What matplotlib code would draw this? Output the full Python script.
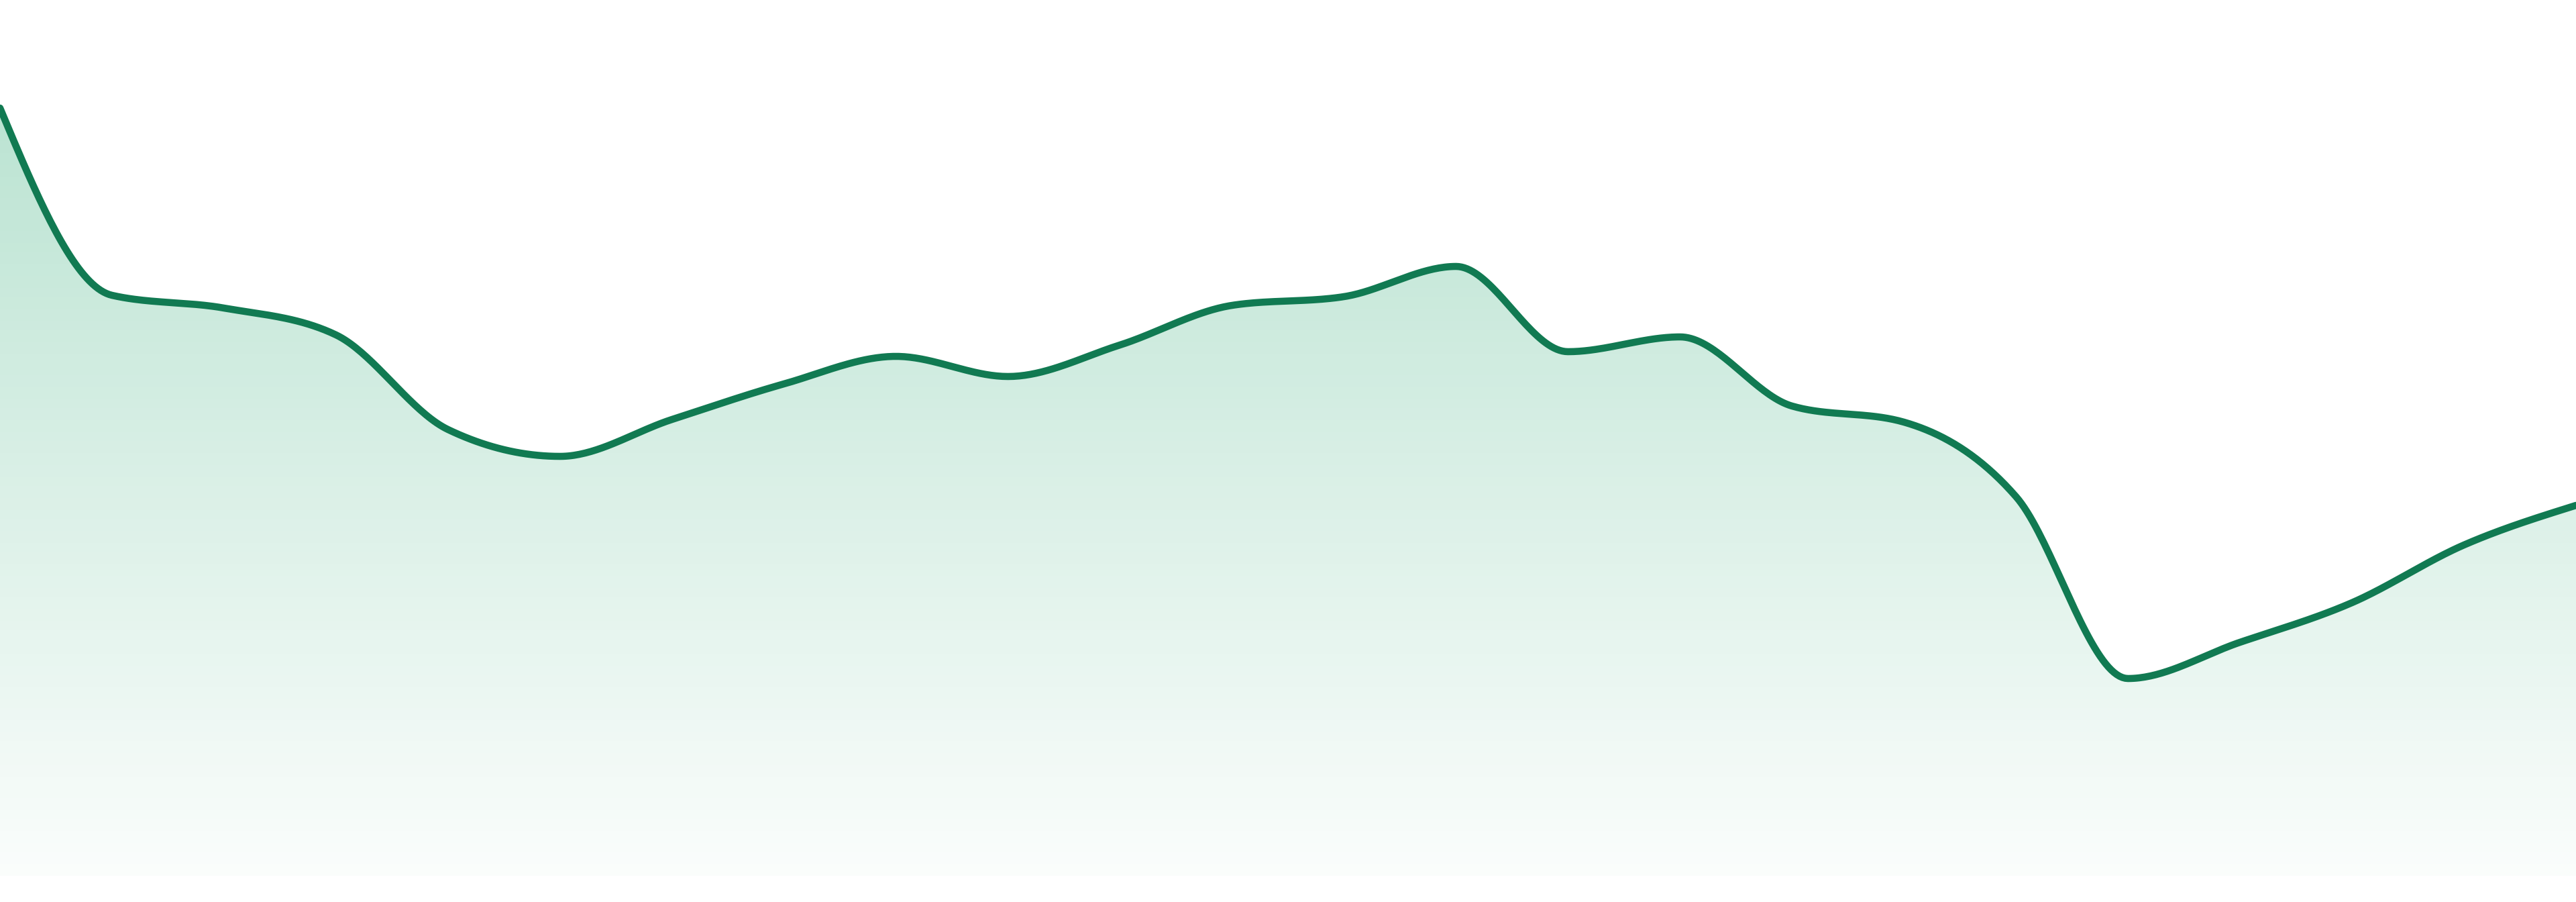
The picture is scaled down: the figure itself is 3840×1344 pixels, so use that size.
import numpy as np
import matplotlib
matplotlib.use("Agg")
import matplotlib.pyplot as plt
from matplotlib.colors import LinearSegmentedColormap

# values (24 evenly spaced samples)
x_idx = list(range(24))
values = [114.4, 86.5, 84.6, 80.6, 66.5, 62.5, 68.0, 73.3, 77.4, 74.4, 79.1, 85.0,
          86.3, 90.8, 78.1, 80.3, 70.0, 67.6, 56.5, 29.4, 34.8, 40.7, 49.3, 55.2]

line_color = "#117a52"


def monotone_curve(xs, ys, n=40):
    # monotone cubic hermite, same idea as d3.curveMonotoneX
    xs = np.asarray(xs, float)
    ys = np.asarray(ys, float)
    h = np.diff(xs)
    s = np.diff(ys) / h
    t = np.zeros_like(ys)
    for i in range(1, len(ys) - 1):
        p = (s[i - 1] * h[i] + s[i] * h[i - 1]) / (h[i - 1] + h[i])
        t[i] = (np.sign(s[i - 1]) + np.sign(s[i])) * min(abs(s[i - 1]), abs(s[i]), 0.5 * abs(p))
    t[0] = (3 * s[0] - t[1]) / 2
    t[-1] = (3 * s[-1] - t[-2]) / 2
    out_x, out_y = [], []
    for i in range(len(xs) - 1):
        u = np.linspace(0, 1, n, endpoint=False)
        h00 = 2 * u**3 - 3 * u**2 + 1
        h10 = u**3 - 2 * u**2 + u
        h01 = -2 * u**3 + 3 * u**2
        h11 = u**3 - u**2
        out_x.extend(xs[i] + u * h[i])
        out_y.extend(h00 * ys[i] + h10 * h[i] * t[i] + h01 * ys[i + 1] + h11 * h[i] * t[i + 1])
    out_x.append(xs[-1])
    out_y.append(ys[-1])
    return np.array(out_x), np.array(out_y)


cx, cy = monotone_curve(x_idx, values)

fig = plt.figure(figsize=(38.4, 13.44), dpi=100)
ax = fig.add_axes([0, 39 / 1344, 1, 1305 / 1344])
ax.set_xlim(0, 23)
ax.set_ylim(0, 130.5)
ax.axis("off")

# gradient fill under the line
base = (20 / 255, 160 / 255, 100 / 255)
cmap = LinearSegmentedColormap.from_list(
    "grad", [(base[0], base[1], base[2], 0.02), (base[0], base[1], base[2], 0.29)])
top = max(values)
grad = np.linspace(0, 1, 256).reshape(-1, 1)
img = ax.imshow(grad, cmap=cmap, aspect="auto", origin="lower",
                extent=[0, 23, 0, top], zorder=1)
poly = ax.fill_between(cx, cy, 0, color="none", lw=0)
img.set_clip_path(poly.get_paths()[0], transform=ax.transData)

ax.plot(cx, cy, color=line_color, lw=7.6, solid_capstyle="round", zorder=3)

fig.savefig("out.png", dpi=100, facecolor="white")
